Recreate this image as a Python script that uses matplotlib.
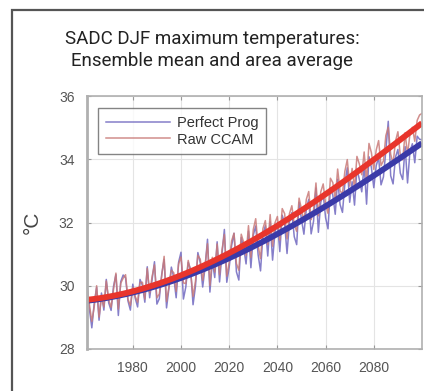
import numpy as np
import matplotlib
matplotlib.use("Agg")
import matplotlib.pyplot as plt
from matplotlib.patches import Rectangle

# Area-averaged DJF maximum temperature (deg C), ensemble mean, 1961-2100
years = np.arange(1961, 2101)

perfect_prog = [
    30.05, 29.26, 28.67, 29.44, 29.95, 28.91, 29.77, 29.23, 30.20, 29.46,
    29.22, 29.98, 30.35, 29.06, 30.13, 30.34, 30.25, 29.52, 29.23, 30.05,
    29.61, 29.33, 30.20, 30.01, 29.48, 30.60, 29.62, 30.19, 30.76, 29.42,
    29.59, 30.36, 30.83, 29.30, 29.92, 30.59, 30.26, 29.62, 30.74, 31.06,
    29.58, 29.96, 30.74, 30.52, 29.40, 29.98, 31.05, 30.73, 29.96, 30.59,
    31.47, 29.80, 30.78, 30.26, 31.39, 30.12, 31.00, 31.78, 30.11, 30.59,
    31.27, 31.66, 30.44, 30.18, 31.52, 31.21, 30.69, 31.73, 30.57, 31.60,
    31.89, 30.98, 30.47, 31.61, 31.90, 30.94, 32.02, 30.81, 31.70, 31.99,
    31.08, 32.23, 31.97, 31.02, 32.01, 32.31, 31.55, 31.30, 32.64, 32.09,
    31.63, 32.43, 32.73, 31.64, 32.04, 33.09, 31.69, 32.64, 32.90, 32.15,
    31.80, 33.10, 32.86, 32.26, 33.37, 32.57, 32.32, 33.23, 33.73, 32.64,
    33.29, 32.55, 33.71, 33.36, 32.97, 33.82, 32.58, 34.08, 33.74, 33.10,
    33.80, 34.05, 33.19, 33.44, 34.28, 35.20, 33.48, 33.22, 34.07, 34.31,
    33.56, 33.36, 34.40, 33.25, 34.25, 34.49, 33.89, 34.73, 34.63, 34.62,
]

raw_ccam = [
    29.95, 29.41, 28.87, 29.34, 30.00, 29.01, 29.62, 29.33, 30.15, 29.56,
    29.32, 29.88, 30.40, 29.26, 30.08, 30.24, 30.35, 29.57, 29.38, 29.95,
    29.66, 29.48, 30.10, 30.11, 29.58, 30.55, 29.77, 30.29, 30.66, 29.62,
    29.74, 30.31, 30.93, 29.50, 29.97, 30.49, 30.41, 29.82, 30.69, 30.91,
    30.09, 30.07, 30.80, 30.43, 29.66, 30.14, 30.96, 30.84, 30.17, 30.65,
    31.33, 30.01, 30.90, 30.43, 31.32, 30.35, 31.13, 31.62, 30.30, 30.74,
    31.42, 31.66, 30.70, 30.49, 31.63, 31.37, 30.96, 31.90, 30.89, 31.78,
    32.12, 31.27, 30.86, 31.81, 32.06, 31.30, 32.25, 31.25, 31.99, 32.19,
    31.44, 32.44, 32.28, 31.48, 32.28, 32.53, 31.93, 31.72, 32.77, 32.42,
    32.02, 32.73, 32.98, 32.09, 32.40, 33.25, 32.21, 32.97, 33.22, 32.58,
    32.29, 33.40, 33.26, 32.73, 33.69, 33.00, 32.91, 33.62, 33.99, 33.15,
    33.71, 33.07, 34.09, 33.85, 33.51, 34.23, 33.29, 34.50, 34.21, 33.68,
    34.29, 34.59, 33.80, 33.95, 34.75, 35.01, 34.16, 33.86, 34.57, 34.87,
    34.12, 33.98, 34.84, 34.14, 34.80, 35.01, 34.57, 35.23, 35.40, 35.45,
]

series_names = ["Perfect Prog", "Raw CCAM"]
thin_colors = ["#7068c0", "#c97a78"]
fit_colors = ["#3a3aa8", "#e8352c"]

fig = plt.figure(figsize=(4.24, 3.91), dpi=100)

# outer frame of the panel
fig.patches.append(Rectangle((12 / 424, -0.1), 1.2, 1 - 10 / 391 + 0.1,
                             transform=fig.transFigure, fill=False,
                             edgecolor="#555555", linewidth=1.6))

fig.text(0.5, 1 - 50 / 391, "SADC DJF maximum temperatures:\nEnsemble mean and area average",
         ha="center", va="center", fontsize=13.5, family="Roboto",
         color="#222222", linespacing=1.35)

ax = fig.add_axes([87 / 424, 1 - 349 / 391, 335 / 424, 253 / 391])

for vals, name, c in zip([perfect_prog, raw_ccam], series_names, thin_colors):
    ax.plot(years, vals, color=c, lw=1.1, alpha=0.85, label=name)

# smooth trend through each series
t = years - years.mean()
for vals, c in zip([perfect_prog, raw_ccam], fit_colors):
    coef = np.polyfit(t, vals, 3)
    ax.plot(years, np.polyval(coef, t), color=c, lw=4.2, solid_capstyle="butt")

ax.set_xlim(1961, 2100)
ax.set_ylim(28, 36)
ax.set_xticks(np.arange(1980, 2081, 20))
ax.set_yticks(np.arange(28, 37, 2))
ax.grid(True, color="#e4e4e4", lw=0.8)
ax.set_axisbelow(True)
ax.tick_params(direction="in", length=3, width=0.8, color="#999999",
               labelsize=10, labelcolor="#555555", pad=9,
               top=True, right=True)
for lbl in ax.get_xticklabels() + ax.get_yticklabels():
    lbl.set_family("Liberation Sans")
for s in ax.spines.values():
    s.set_color("#b0b0b0")
    s.set_linewidth(1.2)
ax.spines["left"].set_linewidth(2.0)

ax.set_ylabel("°C", fontsize=15, color="#444444", family="Liberation Sans", labelpad=12)

leg = ax.legend(loc="upper left", bbox_to_anchor=(0.012, 0.98),
                handlelength=4.4, frameon=True, fancybox=False,
                borderpad=0.5, labelspacing=0.2, handletextpad=0.5,
                prop={"family": "Liberation Sans", "size": 10.5})
leg.get_frame().set_edgecolor("#666666")
leg.get_frame().set_linewidth(1.0)
for txt in leg.get_texts():
    txt.set_color("#333333")

fig.savefig("out.png", dpi=100)
